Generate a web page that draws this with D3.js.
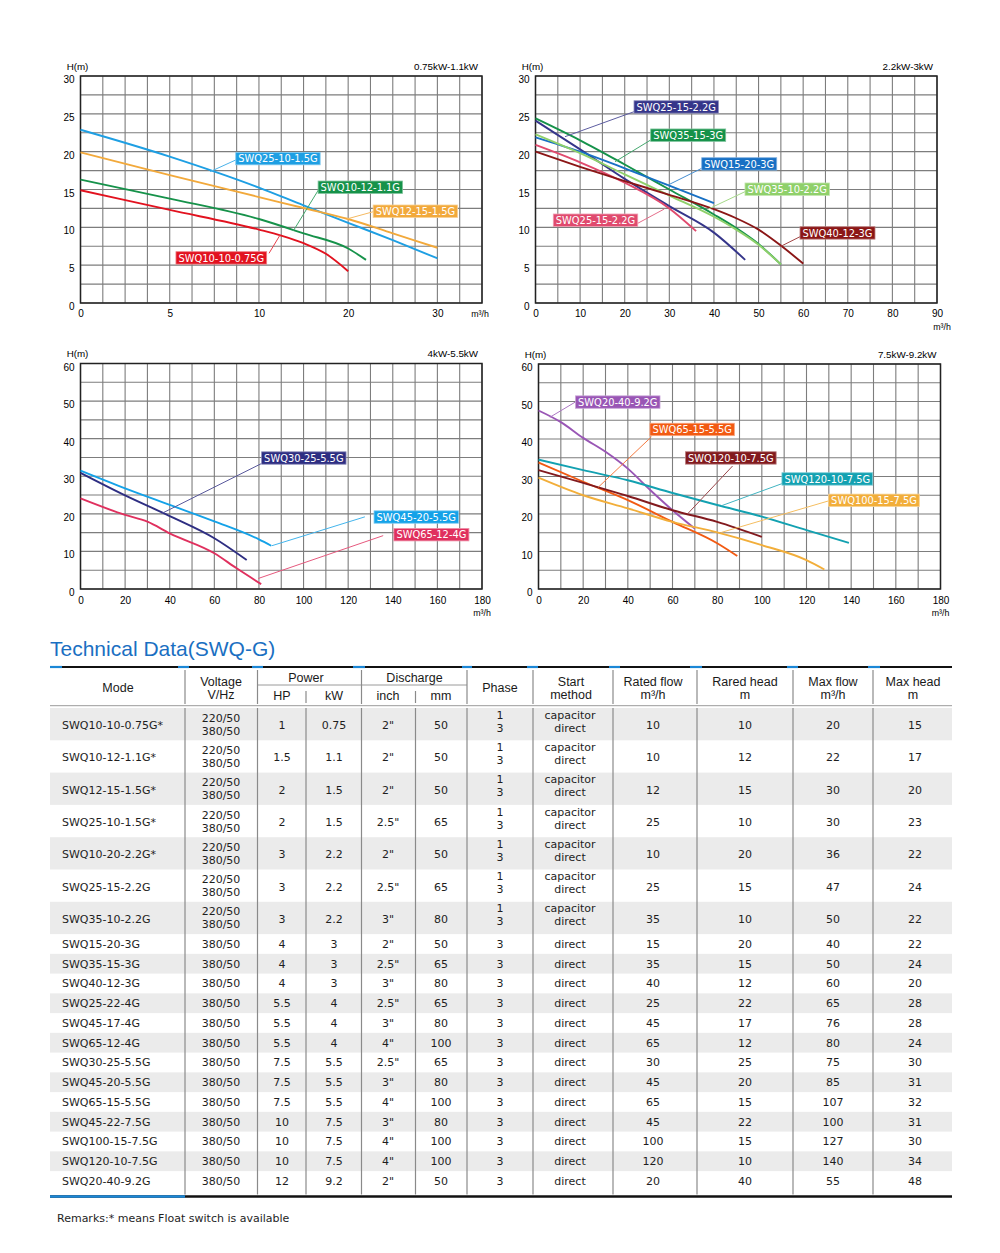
<!DOCTYPE html>
<html>
<head>
<meta charset="utf-8">
<script src="https://cdn.jsdelivr.net/npm/d3@7"></script>
<style>
  body { margin: 0; background: #fff; }
</style>
</head>
<body>
<div id="chart"></div>
<script>
// ---------- curve data: [Q m³/h, H m] ----------
const c1Names = ['SWQ25-10-1.5G', 'SWQ12-15-1.5G', 'SWQ10-12-1.1G', 'SWQ10-10-0.75G'];
const c1Curves = [
  [[0, 22.9], [5, 19.35], [10, 15.25], [15, 12.9], [20, 10.6], [25, 8.3], [30, 5.9]],
  [[0, 19.9], [5, 16.9], [10, 14.0], [15, 12.55], [20, 11.1], [25, 9.2], [30, 7.3]],
  [[0, 16.3], [5, 13.8], [10, 11.1], [15, 9.2], [20, 7.2], [22, 5.7]],
  [[0, 14.9], [5, 12.3], [10, 9.7], [12.5, 8.9], [15, 7.9], [17.5, 6.5], [20, 4.2]]
];

const c2Names = ['SWQ25-15-2.2G', 'SWQ35-15-3G', 'SWQ15-20-3G', 'SWQ35-10-2.2G', 'SWQ25-15-2.2G', 'SWQ40-12-3G'];
const c2Curves = [
  [[0, 24.1], [10, 20.3], [20, 16.4], [30, 12.8], [40, 9.3], [47, 5.7]],
  [[0, 24.4], [10, 21.5], [20, 18.3], [30, 15.0], [40, 11.7], [45, 9.9], [50, 7.8], [55, 5.1]],
  [[0, 21.9], [10, 20.0], [20, 17.8], [30, 15.5], [40, 13.2]],
  [[0, 22.3], [10, 19.8], [20, 17.0], [30, 14.2], [40, 11.4], [45, 9.7], [50, 7.7], [55, 5.1]],
  [[0, 20.9], [10, 18.6], [20, 15.9], [30, 12.5], [36, 9.5]],
  [[0, 20.0], [10, 18.0], [20, 16.1], [30, 14.3], [40, 12.4], [45, 11.2], [50, 9.7], [55, 7.6], [60, 5.2]]
];

const c3Names = ['SWQ30-25-5.5G', 'SWQ45-20-5.5G', 'SWQ65-12-4G'];
const c3Curves = [
  [[0, 30.9], [20, 24.9], [40, 19.4], [60, 13.5], [74.5, 7.7]],
  [[0, 31.5], [20, 26.8], [40, 22.4], [60, 18.0], [80, 13.2], [85.5, 11.5]],
  [[0, 24.1], [20, 19.7], [30, 17.9], [40, 14.8], [60, 9.5], [70, 5.5], [81, 1.3]]
];

const c4Names = ['SWQ20-40-9.2G', 'SWQ65-15-5.5G', 'SWQ120-10-7.5G', 'SWQ120-10-7.5G', 'SWQ100-15-7.5G'];
const c4Curves = [
  [[0, 47.6], [10, 44.5], [20, 40.3], [30, 36.6], [40, 32.1], [50, 26.4], [60, 21.0], [70, 16.1]],
  [[0, 33.7], [20, 28.6], [40, 23.7], [60, 17.9], [80, 12.2], [89, 8.8]],
  [[0, 31.7], [20, 28.3], [40, 24.8], [60, 21.0], [80, 17.9], [100, 13.9]],
  [[0, 34.5], [20, 31.7], [40, 29.0], [60, 25.6], [80, 22.4], [100, 19.3], [120, 15.7], [139, 12.3]],
  [[0, 29.7], [20, 25.0], [40, 21.5], [60, 17.9], [80, 15.1], [100, 11.7], [120, 7.7], [128, 5.2]]
];

// tick labels
const c1XTicks = [0, 5, 10, 20, 30];
const c2XTicks = [0, 10, 20, 30, 40, 50, 60, 70, 80, 90];
const c34XTicks = [0, 20, 40, 60, 80, 100, 120, 140, 160, 180];
const c12YTicks = [0, 5, 10, 15, 20, 25, 30];
const c34YTicks = [0, 10, 20, 30, 40, 50, 60];
const powerRanges = ['0.75kW-1.1kW', '2.2kW-3kW', '4kW-5.5kW', '7.5kW-9.2kW'];

// ---------- table data ----------
const models = ['SWQ10-10-0.75G*', 'SWQ10-12-1.1G*', 'SWQ12-15-1.5G*', 'SWQ25-10-1.5G*', 'SWQ10-20-2.2G*',
  'SWQ25-15-2.2G', 'SWQ35-10-2.2G', 'SWQ15-20-3G', 'SWQ35-15-3G', 'SWQ40-12-3G', 'SWQ25-22-4G', 'SWQ45-17-4G',
  'SWQ65-12-4G', 'SWQ30-25-5.5G', 'SWQ45-20-5.5G', 'SWQ65-15-5.5G', 'SWQ45-22-7.5G', 'SWQ100-15-7.5G',
  'SWQ120-10-7.5G', 'SWQ20-40-9.2G'];
const singlePhaseCount = 7; // first rows: 220/50 + 380/50, phase 1/3, capacitor/direct
const hp = ['1', '1.5', '2', '2', '3', '3', '3', '4', '4', '4', '5.5', '5.5', '5.5', '7.5', '7.5', '7.5', '10', '10', '10', '12'];
const kw = ['0.75', '1.1', '1.5', '1.5', '2.2', '2.2', '2.2', '3', '3', '3', '4', '4', '4', '5.5', '5.5', '5.5', '7.5', '7.5', '7.5', '9.2'];
const inch = ['2"', '2"', '2"', '2.5"', '2"', '2.5"', '3"', '2"', '2.5"', '3"', '2.5"', '3"', '4"', '2.5"', '3"', '4"', '3"', '4"', '4"', '2"'];
const mm = [50, 50, 50, 65, 50, 65, 80, 50, 65, 80, 65, 80, 100, 65, 80, 100, 80, 100, 100, 50];
const ratedFlow = [10, 10, 12, 25, 10, 25, 35, 15, 35, 40, 25, 45, 65, 30, 45, 65, 45, 100, 120, 20];
const ratedHead = [10, 12, 15, 10, 20, 15, 10, 20, 15, 12, 22, 17, 12, 25, 20, 15, 22, 15, 10, 40];
const maxFlow = [20, 22, 30, 30, 36, 47, 50, 40, 50, 60, 65, 76, 80, 75, 85, 107, 100, 127, 140, 55];
const maxHead = [15, 17, 20, 23, 22, 24, 22, 22, 24, 20, 28, 28, 24, 30, 31, 32, 31, 30, 34, 48];

// ---------- styles / layout ----------
const c1Colors = ['#1e9fe3', '#f2a93b', '#16924a', '#e2121f'];
const c2Colors = ['#35358a', '#15924a', '#1870c4', '#8fd06a', '#e04a6e', '#8b1616'];
const c3Colors = ['#2e2e82', '#14a2e8', '#e0305e'];
const c4Colors = ['#9956b5', '#f25a12', '#821a1e', '#13a1b1', '#f2ae3a'];

// label placement in data units: [boxQ, boxTopH, leaderFromQ, leaderFromH, leaderToQ, leaderToH]
const c1Labels = [[8.7, 19.9, 8.7, 18.9, 7.26, 17.35], [22.8, 12.95, 22.83, 12.07, 19.84, 11.1],
  [16.63, 16.12, 16.66, 14.93, 13.86, 9.55], [5.35, 6.78, 11.13, 6.57, 12.37, 8.99]];
const c2Labels = [[22.08, 26.73, 22.08, 25.28, 6.61, 21.98], [25.82, 23.0, 25.82, 21.54, 17.82, 18.67],
  [37.26, 19.2, 37.26, 17.8, 29.41, 15.5], [46.96, 15.86, 46.96, 14.71, 38.74, 12.42],
  [3.99, 11.76, 22.91, 10.53, 28.87, 12.42], [59.29, 10.08, 59.29, 8.76, 54.81, 7.44]];
const c3Labels = [[81.2, 36.5, 81.2, 33.4, 36.4, 20.1], [131.6, 20.8, 127.5, 19.2, 85.7, 11.5],
  [140.5, 16.1, 135.7, 14.2, 79.7, 2.8]];
const c4Labels = [[16.6, 51.5, 16.6, 49.9, 5.1, 45.8], [49.9, 44.2, 50.6, 40.6, 26.7, 27.1],
  [65.8, 36.6, 86.9, 32.8, 67.0, 20.2], [109.0, 31.0, 109.5, 28.2, 81.9, 22.2],
  [129.9, 25.3, 129.9, 23.5, 81.9, 15.1]];

const AXIS_FONT = 'Liberation Sans, Arial, sans-serif';
const BODY_FONT = 'DejaVu Sans, Verdana, sans-serif';

const svg = d3.select('#chart').append('svg').attr('width', 1000).attr('height', 1253)
  .style('display', 'block').style('background', '#fff');

function drawChart(cfg) {
  const { left, top, w, h, x, y, xGrid, yGrid, xTicks, yTicks, curves, colors, labels, names, power, unitY, unitX, xPad } = cfg;
  const g = svg.append('g').attr('transform', `translate(${left},${top})`);

  // grid
  g.append('g').selectAll('line').data(xGrid).join('line')
    .attr('x1', d => x(d)).attr('x2', d => x(d)).attr('y1', 0).attr('y2', h)
    .attr('stroke', '#7d7d7d').attr('stroke-width', 1.1);
  g.append('g').selectAll('line').data(yGrid).join('line')
    .attr('x1', 0).attr('x2', w).attr('y1', d => y(d)).attr('y2', d => y(d))
    .attr('stroke', '#7d7d7d').attr('stroke-width', 1.1);
  g.append('rect').attr('width', w).attr('height', h).attr('fill', 'none')
    .attr('stroke', '#222').attr('stroke-width', 1.5);

  // axes (labels only)
  const yAxis = g.append('g').call(d3.axisLeft(y).tickValues(yTicks).tickSize(0).tickPadding(6));
  const xAxis = g.append('g').attr('transform', `translate(0,${h})`)
    .call(d3.axisBottom(x).tickValues(xTicks).tickSize(0).tickPadding(xPad));
  [yAxis, xAxis].forEach(a => {
    a.select('.domain').remove();
    a.attr('font-family', AXIS_FONT).attr('font-size', 10);
    a.selectAll('text').attr('fill', '#000');
  });
  yAxis.selectAll('text').attr('dy', '0.55em').attr('y', 1);

  g.append('text').attr('x', -3).attr('y', -6.5).attr('text-anchor', 'middle')
    .attr('font-family', AXIS_FONT).attr('font-size', 9.8).attr('fill', '#000').text('H(m)');
  g.append('text').attr('x', w - 4).attr('y', -6.5).attr('text-anchor', 'end')
    .attr('font-family', AXIS_FONT).attr('font-size', 9.8).attr('fill', '#000').text(power);
  g.append('text').attr('x', unitX).attr('y', h + unitY).attr('text-anchor', 'middle')
    .attr('font-family', AXIS_FONT).attr('font-size', 8.8).attr('fill', '#000').text('m³/h');

  // curves
  const line = d3.line().x(d => x(d[0])).y(d => y(d[1])).curve(d3.curveMonotoneX);
  g.append('g').selectAll('path').data(curves).join('path')
    .attr('d', line).attr('fill', 'none')
    .attr('stroke', (d, i) => colors[i]).attr('stroke-width', 1.9);

  // labels with leaders
  labels.forEach((L, i) => {
    const c = colors[i];
    g.append('line')
      .attr('x1', x(L[2])).attr('y1', y(L[3])).attr('x2', x(L[4])).attr('y2', y(L[5]))
      .attr('stroke', d3.interpolateRgb(c, '#fff')(0.2)).attr('stroke-width', 1);
    const lg = g.append('g').attr('transform', `translate(${x(L[0])},${y(L[1])})`);
    const rect = lg.append('rect').attr('height', 12.4)
      .attr('fill', c).attr('stroke', d3.interpolateRgb(c, '#fff')(0.45)).attr('stroke-width', 0.8);
    const t = lg.append('text').attr('x', 2.5).attr('y', 9.9)
      .attr('font-family', BODY_FONT).attr('font-size', 9.9).attr('fill', '#fff').text(names[i]);
    rect.attr('width', t.node().getComputedTextLength() + 5);
  });
}

// chart 1: piecewise x axis (0,5,10 spaced like 10,20,30)
{
  const w = 401.5, h = 227;
  const x = d3.scaleLinear().domain([0, 5, 10, 20, 30, 35]).range([0, 4, 8, 12, 16, 18].map(c => c * w / 18));
  const y = d3.scaleLinear().domain([0, 30]).range([h, 0]);
  drawChart({ left: 80.5, top: 76, w, h, x, y,
    xGrid: d3.range(0, 10, 1.25).concat(d3.range(10, 35.01, 2.5)), yGrid: d3.range(0, 30.01, 2.5),
    xTicks: c1XTicks, yTicks: c12YTicks, curves: c1Curves, colors: c1Colors, labels: c1Labels, names: c1Names,
    power: powerRanges[0], unitY: 14, unitX: w - 2, xPad: 7 });
}
// chart 2
{
  const w = 401.5, h = 227;
  const x = d3.scaleLinear().domain([0, 90]).range([0, w]);
  const y = d3.scaleLinear().domain([0, 30]).range([h, 0]);
  drawChart({ left: 535.5, top: 76, w, h, x, y,
    xGrid: d3.range(0, 90.01, 5), yGrid: d3.range(0, 30.01, 2.5),
    xTicks: c2XTicks, yTicks: c12YTicks, curves: c2Curves, colors: c2Colors, labels: c2Labels, names: c2Names,
    power: powerRanges[1], unitY: 27, unitX: w + 5, xPad: 7 });
}
// chart 3
{
  const w = 401.5, h = 225.5;
  const x = d3.scaleLinear().domain([0, 180]).range([0, w]);
  const y = d3.scaleLinear().domain([0, 60]).range([h, 0]);
  drawChart({ left: 80.5, top: 363.5, w, h, x, y,
    xGrid: d3.range(0, 180.01, 10), yGrid: d3.range(0, 60.01, 5),
    xTicks: c34XTicks, yTicks: c34YTicks, curves: c3Curves, colors: c3Colors, labels: c3Labels, names: c3Names,
    power: powerRanges[2], unitY: 27, unitX: w, xPad: 8 });
}
// chart 4
{
  const w = 402, h = 225;
  const x = d3.scaleLinear().domain([0, 180]).range([0, w]);
  const y = d3.scaleLinear().domain([0, 60]).range([h, 0]);
  drawChart({ left: 538.5, top: 364, w, h, x, y,
    xGrid: d3.range(0, 180.01, 10), yGrid: d3.range(0, 60.01, 5),
    xTicks: c34XTicks, yTicks: c34YTicks, curves: c4Curves, colors: c4Colors, labels: c4Labels, names: c4Names,
    power: powerRanges[3], unitY: 27, unitX: w, xPad: 8 });
}

// ---------- table ----------
const T = { left: 50, right: 952, top: 667, headBottom: 705.7, rowsTop: 708, dblH: 32.3, sglH: 19.75, bottom: 1196.5 };
const colLines = [185, 257.5, 306, 361.5, 415.5, 467, 533, 613, 697, 793, 873];
const blueMarks = [[50, 62], [178, 189], [252, 263], [353, 365], [462, 472], [527, 538], [609, 620], [690, 702], [787, 798], [868, 880]];
const BLUE = '#1b87d6';

svg.append('text').attr('x', 50).attr('y', 655.5).attr('font-family', AXIS_FONT)
  .attr('font-size', 21).attr('fill', '#1a6fc2').text('Technical Data(SWQ-G)');

const tg = svg.append('g');
// rows
const rowTops = [];
let yy = T.rowsTop;
models.forEach((m, i) => { rowTops.push(yy); yy += i < singlePhaseCount ? T.dblH : T.sglH; });
const rowH = i => (i < singlePhaseCount ? T.dblH : T.sglH);

tg.selectAll('.band').data(models.filter((d, i) => i % 2 === 0)).join('rect')
  .attr('x', T.left).attr('width', T.right - T.left)
  .attr('y', (d, k) => rowTops[k * 2]).attr('height', (d, k) => rowH(k * 2))
  .attr('fill', '#ebebeb');

// top rule
tg.append('line').attr('x1', T.left).attr('x2', T.right).attr('y1', T.top).attr('y2', T.top)
  .attr('stroke', '#111').attr('stroke-width', 2.2);
tg.selectAll('.bm').data(blueMarks).join('line')
  .attr('x1', d => d[0]).attr('x2', d => d[1]).attr('y1', T.top).attr('y2', T.top)
  .attr('stroke', BLUE).attr('stroke-width', 2.2);
// header bottom + power/discharge split
tg.append('line').attr('x1', T.left).attr('x2', T.right).attr('y1', T.headBottom).attr('y2', T.headBottom)
  .attr('stroke', '#9a9a9a').attr('stroke-width', 1);
tg.append('line').attr('x1', 257.5).attr('x2', 467).attr('y1', 685).attr('y2', 685)
  .attr('stroke', '#9a9a9a').attr('stroke-width', 1);
// header verticals
colLines.forEach(xv => {
  const sub = xv === 306 || xv === 415.5;
  tg.append('line').attr('x1', xv).attr('x2', xv).attr('y1', sub ? 691 : 670).attr('y2', sub ? 703 : 704)
    .attr('stroke', '#8a8a8a').attr('stroke-width', 1.2);
  tg.append('line').attr('x1', xv).attr('x2', xv).attr('y1', T.rowsTop).attr('y2', T.bottom - 2)
    .attr('stroke', '#8a8a8a').attr('stroke-width', 1.2);
});
// bottom rule
tg.append('line').attr('x1', T.left).attr('x2', T.right).attr('y1', T.bottom).attr('y2', T.bottom)
  .attr('stroke', '#111').attr('stroke-width', 2.6);
tg.append('line').attr('x1', T.left).attr('x2', 185).attr('y1', T.bottom).attr('y2', T.bottom)
  .attr('stroke', BLUE).attr('stroke-width', 2.6);

// header text
const headers = [
  ['Mode', 118, 687.5], ['Voltage', 221, 681], ['V/Hz', 221, 694.5], ['Power', 306, 677.5],
  ['HP', 282, 695.5], ['kW', 334, 695.5], ['Discharge', 414.5, 677.5], ['inch', 388, 695.5], ['mm', 441, 695.5],
  ['Phase', 500, 687.5], ['Start', 571, 681], ['method', 571, 694.5], ['Rated flow', 653, 681], ['m³/h', 653, 694.5],
  ['Rared head', 745, 681], ['m', 745, 694.5], ['Max flow', 833, 681], ['m³/h', 833, 694.5],
  ['Max head', 913, 681], ['m', 913, 694.5]
];
tg.selectAll('.hd').data(headers).join('text')
  .attr('x', d => d[1]).attr('y', d => d[2]).attr('dy', '0.36em').attr('text-anchor', 'middle')
  .attr('font-family', AXIS_FONT).attr('font-size', 12.5).attr('fill', '#1a1a1a').text(d => d[0]);

// body text
const colCenters = { volt: 221, hp: 282, kw: 334, inch: 388, mm: 441, phase: 500, start: 570, rf: 653, rh: 745, mf: 833, mh: 915 };
function cell(x, y, s, anchor) {
  tg.append('text').attr('x', x).attr('y', y).attr('dy', '0.36em').attr('text-anchor', anchor || 'middle')
    .attr('font-family', BODY_FONT).attr('font-size', 11).attr('fill', '#1e1e1e').text(s);
}
models.forEach((m, i) => {
  const dbl = i < singlePhaseCount;
  const c = rowTops[i] + rowH(i) / 2 + (dbl ? 1 : 0);
  cell(62, c, m, 'start');
  if (dbl) {
    cell(colCenters.volt, c - 7.5, '220/50'); cell(colCenters.volt, c + 5.5, '380/50');
    cell(colCenters.phase, c - 10.5, '1'); cell(colCenters.phase, c + 2.5, '3');
    cell(colCenters.start, c - 10.5, 'capacitor'); cell(colCenters.start, c + 2.5, 'direct');
  } else {
    cell(colCenters.volt, c, '380/50');
    cell(colCenters.phase, c, '3');
    cell(colCenters.start, c, 'direct');
  }
  cell(colCenters.hp, c, hp[i]);
  cell(colCenters.kw, c, kw[i]);
  cell(colCenters.inch, c, inch[i]);
  cell(colCenters.mm, c, mm[i]);
  cell(colCenters.rf, c, ratedFlow[i]);
  cell(colCenters.rh, c, ratedHead[i]);
  cell(colCenters.mf, c, maxFlow[i]);
  cell(colCenters.mh, c, maxHead[i]);
});

svg.append('text').attr('x', 57).attr('y', 1222).attr('font-family', BODY_FONT)
  .attr('font-size', 11).attr('fill', '#1e1e1e').text('Remarks:* means Float switch is available');
</script>
</body>
</html>
